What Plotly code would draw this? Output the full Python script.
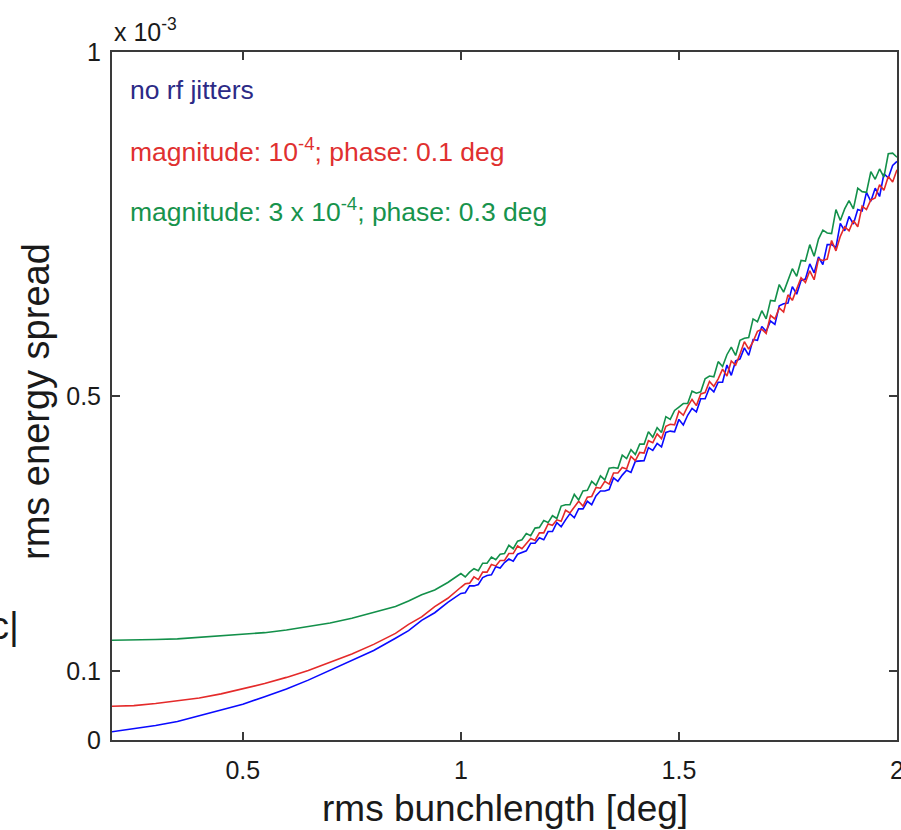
import plotly.graph_objects as go

# x: rms bunchlength [deg]
x_vals = [0.20, 0.25, 0.30, 0.35, 0.40, 0.45, 0.50, 0.55, 0.60, 0.65, 0.70, 0.75, 0.80, 0.85, 0.88, 0.91, 0.94, 0.97,
          1.00, 1.01, 1.02, 1.03, 1.04, 1.05, 1.06, 1.07, 1.08, 1.09,
          1.10, 1.11, 1.12, 1.13, 1.14, 1.15, 1.16, 1.17, 1.18, 1.19,
          1.20, 1.21, 1.22, 1.23, 1.24, 1.25, 1.26, 1.27, 1.28, 1.29,
          1.30, 1.31, 1.32, 1.33, 1.34, 1.35, 1.36, 1.37, 1.38, 1.39,
          1.40, 1.41, 1.42, 1.43, 1.44, 1.45, 1.46, 1.47, 1.48, 1.49,
          1.50, 1.51, 1.52, 1.53, 1.54, 1.55, 1.56, 1.57, 1.58, 1.59,
          1.60, 1.61, 1.62, 1.63, 1.64, 1.65, 1.66, 1.67, 1.68, 1.69,
          1.70, 1.71, 1.72, 1.73, 1.74, 1.75, 1.76, 1.77, 1.78, 1.79,
          1.80, 1.81, 1.82, 1.83, 1.84, 1.85, 1.86, 1.87, 1.88, 1.89,
          1.90, 1.91, 1.92, 1.93, 1.94, 1.95, 1.96, 1.97, 1.98, 1.99,
          2.00]

# rms energy spread (x 10^-3)
no_jitter = [0.012, 0.016, 0.021, 0.027, 0.035, 0.043, 0.052, 0.063, 0.074, 0.087, 0.101, 0.115, 0.130, 0.148, 0.159, 0.174, 0.185, 0.200,
             0.213, 0.214, 0.224, 0.224, 0.226, 0.236, 0.239, 0.240, 0.252, 0.250,
             0.258, 0.263, 0.260, 0.270, 0.273, 0.275, 0.286, 0.286, 0.294, 0.291,
             0.303, 0.303, 0.316, 0.310, 0.320, 0.329, 0.323, 0.336, 0.336, 0.347,
             0.342, 0.355, 0.362, 0.362, 0.364, 0.381, 0.376, 0.385, 0.392, 0.389,
             0.405, 0.405, 0.406, 0.425, 0.421, 0.431, 0.426, 0.447, 0.449, 0.448,
             0.466, 0.458, 0.472, 0.482, 0.477, 0.496, 0.496, 0.512, 0.506, 0.520,
             0.520, 0.545, 0.530, 0.551, 0.554, 0.570, 0.559, 0.582, 0.581, 0.601,
             0.594, 0.609, 0.604, 0.631, 0.634, 0.635, 0.659, 0.648, 0.668, 0.670,
             0.692, 0.679, 0.702, 0.691, 0.720, 0.720, 0.716, 0.751, 0.740, 0.761,
             0.750, 0.771, 0.769, 0.796, 0.783, 0.802, 0.790, 0.823, 0.817, 0.835,
             0.841]

jitter_small = [0.049, 0.050, 0.053, 0.057, 0.061, 0.067, 0.074, 0.082, 0.091, 0.101, 0.113, 0.125, 0.139, 0.155, 0.168, 0.179, 0.194, 0.206,
                0.222, 0.227, 0.228, 0.237, 0.233, 0.244, 0.244, 0.255, 0.253, 0.261,
                0.261, 0.271, 0.271, 0.282, 0.278, 0.286, 0.293, 0.290, 0.301, 0.301,
                0.314, 0.312, 0.320, 0.318, 0.334, 0.330, 0.339, 0.347, 0.340, 0.353,
                0.354, 0.367, 0.366, 0.376, 0.372, 0.388, 0.388, 0.396, 0.394, 0.412,
                0.406, 0.418, 0.417, 0.435, 0.432, 0.445, 0.438, 0.456, 0.459, 0.458,
                0.478, 0.472, 0.485, 0.495, 0.486, 0.503, 0.505, 0.521, 0.514, 0.525,
                0.539, 0.529, 0.551, 0.545, 0.561, 0.579, 0.568, 0.579, 0.594, 0.597,
                0.591, 0.617, 0.612, 0.628, 0.622, 0.647, 0.639, 0.655, 0.672, 0.665,
                0.682, 0.669, 0.699, 0.697, 0.699, 0.726, 0.711, 0.732, 0.746, 0.740,
                0.755, 0.746, 0.776, 0.771, 0.785, 0.788, 0.807, 0.799, 0.819, 0.811,
                0.829]

jitter_large = [0.145, 0.145, 0.146, 0.147, 0.149, 0.151, 0.153, 0.156, 0.160, 0.165, 0.170, 0.177, 0.185, 0.194, 0.202, 0.211, 0.218, 0.229,
                0.242, 0.237, 0.244, 0.249, 0.246, 0.257, 0.257, 0.266, 0.262, 0.270,
                0.271, 0.283, 0.278, 0.289, 0.291, 0.300, 0.297, 0.308, 0.309, 0.319,
                0.316, 0.326, 0.322, 0.340, 0.342, 0.342, 0.357, 0.349, 0.362, 0.363,
                0.376, 0.370, 0.384, 0.378, 0.395, 0.396, 0.395, 0.414, 0.409, 0.422,
                0.415, 0.430, 0.430, 0.448, 0.440, 0.454, 0.447, 0.470, 0.466, 0.479,
                0.484, 0.489, 0.489, 0.507, 0.504, 0.506, 0.525, 0.529, 0.528, 0.550,
                0.543, 0.560, 0.571, 0.559, 0.581, 0.584, 0.585, 0.612, 0.608, 0.624,
                0.612, 0.639, 0.638, 0.662, 0.651, 0.669, 0.685, 0.674, 0.697, 0.696,
                0.720, 0.703, 0.728, 0.741, 0.737, 0.736, 0.771, 0.755, 0.772, 0.784,
                0.772, 0.802, 0.797, 0.796, 0.826, 0.815, 0.830, 0.818, 0.852, 0.853,
                0.847]

x_ticks = [0.5, 1, 1.5, 2]
x_ticktext = ["0.5", "1", "1.5", "2"]
y_ticks = [0, 0.1, 0.5, 1]
y_ticktext = ["0", "0.1", "0.5", "1"]

FONT = "Liberation Sans, Arial, Helvetica, sans-serif"
AXIS_COLOR = "#3a3a3a"
TEXT_COLOR = "#1a1a1a"

fig = go.Figure()
fig.add_trace(go.Scatter(x=x_vals, y=no_jitter, mode="lines",
                         line=dict(color="#0a0aff", width=1.6), showlegend=False))
fig.add_trace(go.Scatter(x=x_vals, y=jitter_small, mode="lines",
                         line=dict(color="#e42a2a", width=1.6), showlegend=False))
fig.add_trace(go.Scatter(x=x_vals, y=jitter_large, mode="lines",
                         line=dict(color="#13904a", width=1.6), showlegend=False))

W, H = 901, 830
L, R, T, B = 112, 4, 52, 90
pw, ph = W - L - R, H - T - B


def px(xp):
    return (xp - L) / pw


def py(yp):
    return (H - B - yp) / ph


annotations = [
    dict(text="no rf jitters", x=px(128), y=py(90), xanchor="left", yanchor="middle",
         font=dict(size=26.5, color="#2c2a86", family=FONT)),
    dict(text="magnitude: 10<sup>-4</sup>; phase: 0.1 deg", x=px(128), y=py(150), xanchor="left", yanchor="middle",
         font=dict(size=26.5, color="#e03030", family=FONT)),
    dict(text="magnitude: 3 x 10<sup>-4</sup>; phase: 0.3 deg", x=px(128), y=py(210), xanchor="left", yanchor="middle",
         font=dict(size=26.5, color="#17934c", family=FONT)),
    dict(text="x 10<sup>-3</sup>", x=px(112), y=py(30), xanchor="left", yanchor="middle",
         font=dict(size=25, color=TEXT_COLOR, family=FONT)),
    dict(text="rms bunchlength [deg]", x=px(505), y=py(808), xanchor="center", yanchor="middle",
         font=dict(size=37, color=TEXT_COLOR, family=FONT)),
    dict(text="rms energy spread", x=px(36), y=py(402), xanchor="center", yanchor="middle", textangle=-90,
         font=dict(size=38, color=TEXT_COLOR, family=FONT)),
    dict(text="c|", x=px(-12), y=py(626), xanchor="left", yanchor="middle",
         font=dict(size=38, color=TEXT_COLOR, family=FONT)),
]
for a in annotations:
    a.update(xref="paper", yref="paper", showarrow=False)

fig.update_layout(
    width=W, height=H,
    margin=dict(l=L, r=R, t=T, b=B, pad=0, autoexpand=False),
    paper_bgcolor="white", plot_bgcolor="white",
    font=dict(family=FONT, size=25, color=TEXT_COLOR),
    annotations=annotations,
    xaxis=dict(range=[0.2, 2.0], tickvals=x_ticks, ticktext=x_ticktext,
               showgrid=False, zeroline=False, showline=True, linecolor=AXIS_COLOR, linewidth=2,
               mirror="allticks", ticks="inside", ticklen=8, tickwidth=1.5, tickcolor=AXIS_COLOR,
               ticklabelstandoff=7, ticklabeloverflow="allow", automargin=False,
               tickfont=dict(size=25, family=FONT, color=TEXT_COLOR)),
    yaxis=dict(range=[0, 1.0], tickvals=y_ticks, ticktext=y_ticktext,
               showgrid=False, zeroline=False, showline=True, linecolor=AXIS_COLOR, linewidth=2,
               mirror="allticks", ticks="inside", ticklen=8, tickwidth=1.5, tickcolor=AXIS_COLOR,
               ticklabelstandoff=4, ticklabeloverflow="allow", automargin=False,
               tickfont=dict(size=25, family=FONT, color=TEXT_COLOR)),
)

fig.write_html("out.html")
